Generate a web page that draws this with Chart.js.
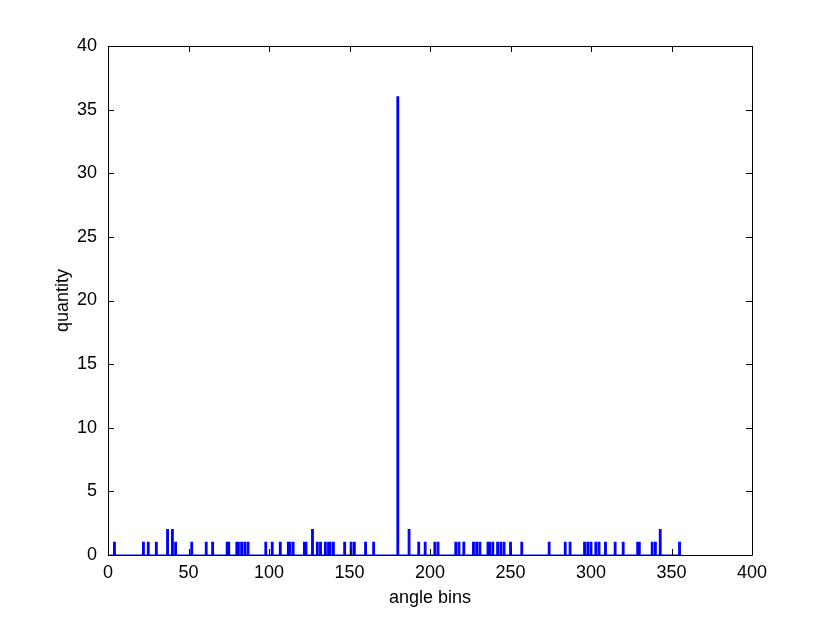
<!DOCTYPE html>
<html><head><meta charset="utf-8">
<script src="https://cdn.jsdelivr.net/npm/chart.js@4.4.1/dist/chart.umd.min.js"></script>
<style>html,body{margin:0;padding:0;background:#fff}#wrap{width:830px;height:625px}</style>
</head><body><div id="wrap"><canvas id="c" width="830" height="625"></canvas></div>
<script>
const binStart = 1;
const binEnd = 356;
const spikeAngles = [4,22,25,30,37,40,42,52,61,65,74,75,80,81,83,85,87,98,102,107,112,113,115,122,123,127,130,132,135,137,138,140,147,151,153,160,165,180,187,193,197,203,205,216,218,221,227,229,231,236,237,239,242,244,246,250,257,274,284,287,296,298,300,303,305,309,315,320,329,330,338,340,343,355];
const spikeCounts = [1,1,1,1,2,2,1,1,1,1,1,1,1,1,1,1,1,1,1,1,1,1,1,1,1,2,1,1,1,1,1,1,1,1,1,1,1,36,2,1,1,1,1,1,1,1,1,1,1,1,1,1,1,1,1,1,1,1,1,1,1,1,1,1,1,1,1,1,1,1,1,1,2,1];
const xTicks = [0,50,100,150,200,250,300,350,400];
const yTicks = [0,5,10,15,20,25,30,35,40];
const xTitle = 'angle bins';
const yTitle = 'quantity';

const counts = {};
spikeAngles.forEach((a,i)=>counts[a]=spikeCounts[i]);
const pts = [];
for (let x = binStart; x <= binEnd; x++) pts.push({x:x, y: counts[x] || 0});

const FONT = 'Liberation Sans, Arial, sans-serif';
const boxPlugin = {
  id:'box',
  afterDraw(chart){
    const {ctx, chartArea:a, scales:{x,y}} = chart;
    ctx.save();
    ctx.strokeStyle = '#000';
    ctx.lineWidth = 1;
    ctx.beginPath();
    ctx.rect(Math.round(a.left)+0.5, Math.round(a.top)+0.5, Math.round(a.right-a.left), Math.round(a.bottom-a.top));
    ctx.stroke();
    const L = 6;
    ctx.beginPath();
    xTicks.forEach(v=>{
      const p = Math.round(x.getPixelForValue(v))+0.5;
      ctx.moveTo(p, a.bottom); ctx.lineTo(p, a.bottom-L);
      ctx.moveTo(p, a.top); ctx.lineTo(p, a.top+L);
    });
    yTicks.forEach(v=>{
      const p = Math.round(y.getPixelForValue(v))+0.5;
      ctx.moveTo(a.left, p); ctx.lineTo(a.left+L, p);
      ctx.moveTo(a.right, p); ctx.lineTo(a.right-L, p);
    });
    ctx.stroke();
    ctx.restore();
  }
};

new Chart(document.getElementById('c'), {
  type:'line',
  data:{datasets:[{data:pts, borderColor:'#0000ff', backgroundColor:'#0000ff', borderWidth:1.2, pointRadius:0, stepped:'middle', fill:'origin'}]},
  options:{
    responsive:false, animation:false,
    layout:{padding:{top:46, right:78, left:0, bottom:0}},
    plugins:{legend:{display:false}, tooltip:{enabled:false}, filler:{propagate:false}},
    scales:{
      x:{type:'linear', min:0, max:400,
        afterBuildTicks(s){s.ticks = xTicks.map(v=>({value:v}));},
        afterFit(s){s.height = 70;},
        grid:{display:false, drawTicks:false}, border:{display:false},
        ticks:{color:'#000', font:{family:FONT, size:18}, padding:7, maxRotation:0},
        title:{display:true, text:xTitle, color:'#000', font:{family:FONT, size:18}, padding:{top:0,bottom:16}}
      },
      y:{type:'linear', min:0, max:40,
        afterBuildTicks(s){s.ticks = yTicks.map(v=>({value:v}));},
        afterFit(s){s.width = 108;},
        grid:{display:false, drawTicks:false}, border:{display:false},
        ticks:{color:'#000', font:{family:FONT, size:18}, padding:11},
        title:{display:true, text:yTitle, color:'#000', font:{family:FONT, size:18}, padding:{top:52,bottom:0}}
      }
    }
  },
  plugins:[boxPlugin]
});
</script></body></html>
